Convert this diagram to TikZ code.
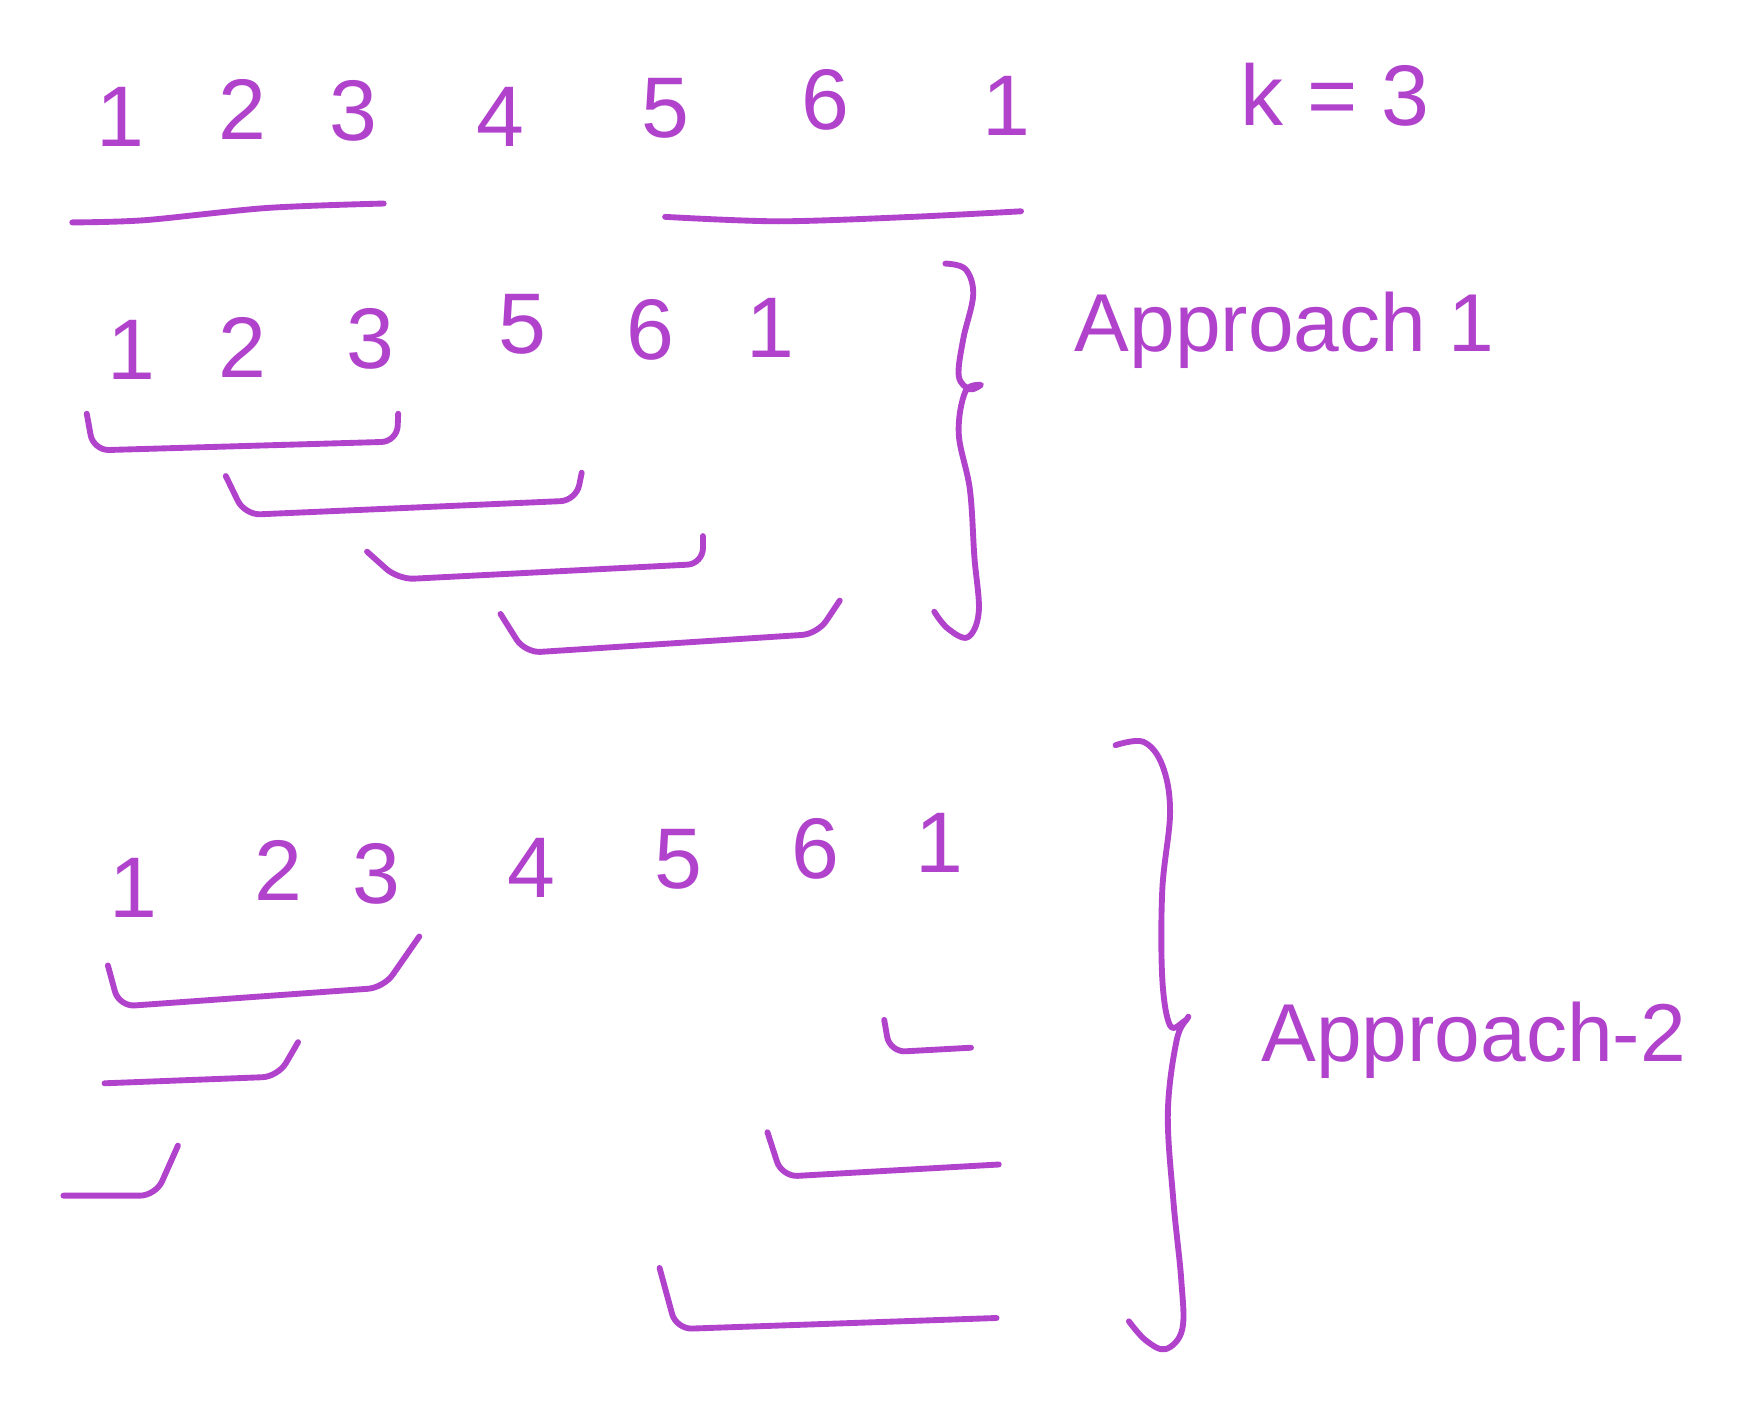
\documentclass[tikz,border=0pt]{standalone}
\usepackage{fontspec}
\setmainfont{Liberation Sans}
\definecolor{ink}{RGB}{176,66,204}
\begin{document}
\begin{tikzpicture}[x = 0.01cm, y = -0.01cm,
            pen/.style = {draw = ink, line width = 1.5pt, line cap = round, line join = round},
            digit/.style = {text = ink, inner sep = 0pt, font = \fontsize{22}{26}\selectfont},
            label/.style = {text = ink, inner sep = 0pt, font = \fontsize{21}{26}\selectfont}]
            \useasboundingbox (0,0) rectangle (1568,1271);
            \node[digit] (a1) at (108,105) {1};
            \node[digit] (a2) at (218,98) {2};
            \node[digit] (a3) at (318,100) {3};
            \node[digit] (a4) at (450,105) {4};
            \node[digit] (a5) at (598,97) {5};
            \node[digit] (a6) at (742,90) {6};
            \node[digit] (a7) at (905,95) {1};
            \node[digit] (k) at (1200,85) {k = 3};
            \draw[pen] plot[smooth, tension = 0.5] coordinates{(65,200) (130,198) (240,187) (345,183)};
            \draw[pen] plot[smooth, tension = 0.5] coordinates{(598,195) (700,199) (820,195) (918,190)};
            \node[digit] (b1) at (118,315) {1};
            \node[digit] (b2) at (218,312) {2};
            \node[digit] (b3) at (333,305) {3};
            \node[digit] (b5) at (470,292) {5};
            \node[digit] (b6) at (585,297) {6};
            \node[digit] (b7) at (693,295) {1};
            \begin{scope}[rounded corners = 4pt]
                \draw[pen] (78,372) -- (84,405) -- (357,397) -- (358,372);
                \draw[pen] (203,428) -- (220,463) -- (518,450) -- (523,425);
                \draw[pen] (330,496) -- (358,521) -- (632,507) -- (632,482);
                \draw[pen] (450,552) -- (472,587) -- (735,570) -- (755,540);
            \end{scope}
            \draw[pen] plot[smooth, tension = 0.6] coordinates{(850,237) (868,242) (875,265) (866,305) (862,338) (872,350) (882,346) (868,352) (862,390) (872,440) (876,500) (880,550) (870,573) (852,565) (840,550)};
            \node[label] (app1) at (1155,297) {Approach 1};
            \node[digit] (c1) at (120,798) {1};
            \node[digit] (c2) at (250,783) {2};
            \node[digit] (c3) at (338,786) {3};
            \node[digit] (c4) at (478,780) {4};
            \node[digit] (c5) at (610,773) {5};
            \node[digit] (c6) at (733,763) {6};
            \node[digit] (c7) at (845,758) {1};
            \begin{scope}[rounded corners = 4pt]
                \draw[pen] (97,868) -- (107,905) -- (345,888) -- (377,842);
                \draw[pen] (94,974) -- (250,968) -- (268,937);
                \draw[pen] (57,1075) -- (140,1075) -- (160,1030);
                \draw[pen] (795,917) -- (800,946) -- (873,942);
                \draw[pen] (690,1018) -- (703,1058) -- (898,1047);
                \draw[pen] (593,1140) -- (608,1195) -- (896,1185);
            \end{scope}
            \draw[pen] plot[smooth, tension = 0.6] coordinates{(1003,670) (1028,667) (1045,688) (1052,730) (1045,800) (1045,880) (1052,922) (1065,918) (1068,915) (1058,935) (1050,1000) (1055,1080) (1062,1150) (1063,1195) (1048,1213) (1030,1205) (1015,1188)};
            \node[label] (app2) at (1325,935) {Approach-2};
\end{tikzpicture}
\end{document}
